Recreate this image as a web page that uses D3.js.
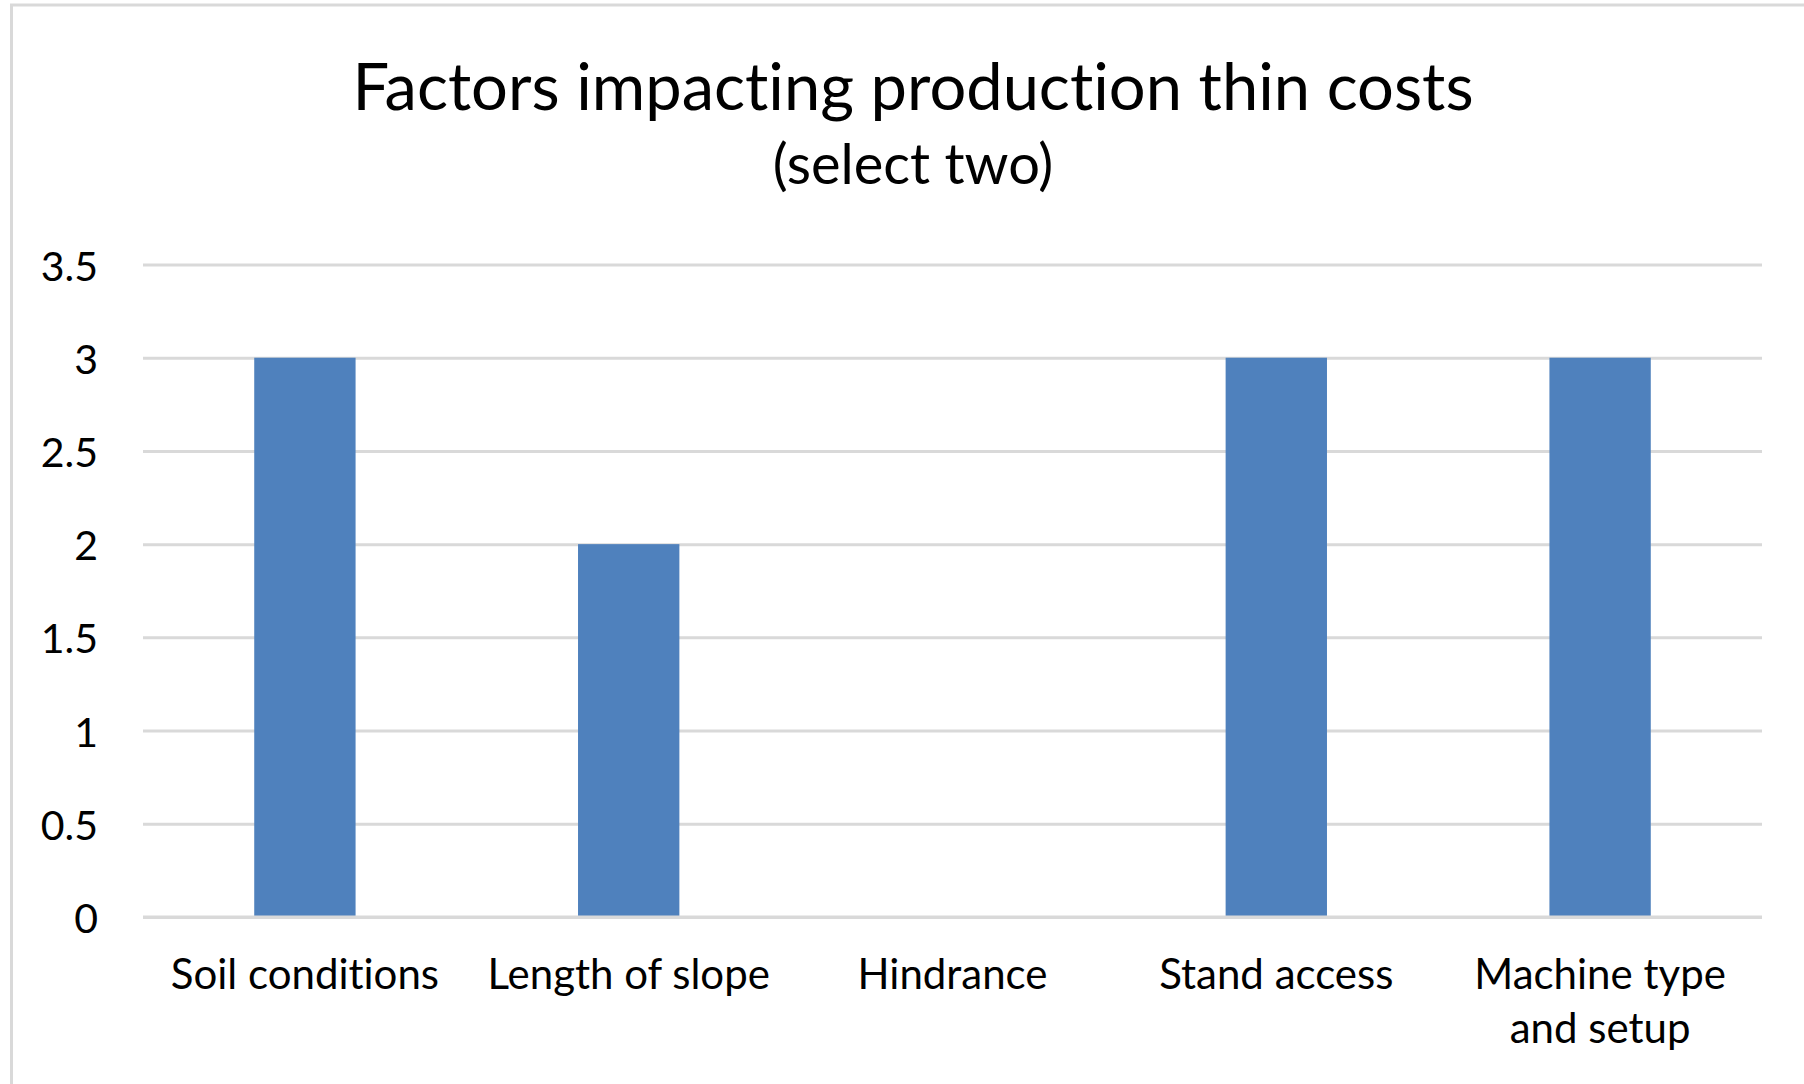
<!DOCTYPE html>
<html>
<head>
<meta charset="utf-8">
<script src="https://cdn.jsdelivr.net/npm/d3@7"></script>
<style>
  html, body { margin: 0; padding: 0; background: #ffffff; }
  svg { display: block; }
  text { font-family: Lato, "Open Sans", sans-serif; fill: #000000; font-variant-ligatures: none; font-feature-settings: "liga" 0, "clig" 0; }
</style>
</head>
<body>
<svg id="chart" width="1804" height="1084"></svg>
<script>
// Survey responses: factors impacting production thin costs
const categories = ["Soil conditions", "Length of slope", "Hindrance", "Stand access", "Machine type and setup"];
const responses = [3, 2, 0, 3, 3];
const yTicks = [0, 0.5, 1, 1.5, 2, 2.5, 3, 3.5];
const titleText = "Factors impacting production thin costs";
const subtitleText = "(select two)";

const W = 1804, H = 1084;
const plot = { left: 143, right: 1762, top: 264.5, bottom: 917 };
const barColor = "#4f81bd";
const gridColor = "#d9d9d9";

const svg = d3.select("#chart");

// chart-area frame
svg.append("rect")
  .attr("x", 11.5).attr("y", 5)
  .attr("width", W + 40).attr("height", H + 40)
  .attr("fill", "#ffffff")
  .attr("stroke", gridColor).attr("stroke-width", 3);

// scales
const gapRatio = 0.687;
const x = d3.scaleBand()
  .domain(categories)
  .range([plot.left, plot.right])
  .paddingInner(gapRatio)
  .paddingOuter(gapRatio / 2);

const y = d3.scaleLinear()
  .domain([0, 3.5])
  .range([plot.bottom, plot.top]);

// title
svg.append("text")
  .attr("x", 913).attr("y", 110)
  .attr("text-anchor", "middle")
  .style("font-size", "65px")
  .text(titleText);

svg.append("text")
  .attr("x", 913).attr("y", 184)
  .attr("text-anchor", "middle")
  .style("font-size", "56px")
  .text(subtitleText);

// horizontal gridlines (from the y axis ticks)
const grid = svg.append("g")
  .attr("transform", `translate(${plot.left},0)`)
  .call(d3.axisLeft(y).tickValues(yTicks).tickSize(-(plot.right - plot.left)).tickFormat(""));
grid.select(".domain").remove();
grid.selectAll(".tick line").attr("stroke", gridColor).attr("stroke-width", 3);

// y tick labels
const yAxis = svg.append("g")
  .attr("transform", `translate(98,0)`)
  .call(d3.axisLeft(y).tickValues(yTicks).tickSize(0).tickPadding(0).tickFormat(d3.format("~g")));
yAxis.select(".domain").remove();
yAxis.selectAll(".tick text")
  .attr("x", 0).attr("dy", null)
  .attr("dominant-baseline", "central")
  .attr("text-anchor", "end")
  .style("font-size", "41px")
  .style("font-family", "Lato, 'Open Sans', sans-serif")
  .attr("fill", "#000");

// bars
svg.append("g").selectAll("rect")
  .data(categories.map((c, i) => ({ c, v: responses[i] })))
  .join("rect")
  .attr("x", d => x(d.c))
  .attr("width", x.bandwidth())
  .attr("y", d => y(d.v))
  .attr("height", d => y(0) - y(d.v))
  .attr("fill", barColor);

// category axis line drawn over the bars
svg.append("line")
  .attr("x1", plot.left).attr("x2", plot.right)
  .attr("y1", y(0)).attr("y2", y(0))
  .attr("stroke", gridColor).attr("stroke-width", 3);

// category labels, wrapped to the band width
const step = x.step();
const labels = svg.append("g");
categories.forEach(c => {
  const cx = x(c) + x.bandwidth() / 2;
  const t = labels.append("text")
    .attr("x", cx).attr("y", 989)
    .attr("text-anchor", "middle")
    .style("font-size", "42px");
  const words = c.split(" ");
  let line = [];
  let tspan = t.append("tspan").attr("x", cx).attr("dy", 0);
  words.forEach(w => {
    line.push(w);
    tspan.text(line.join(" "));
    if (tspan.node().getComputedTextLength() > step - 20 && line.length > 1) {
      line.pop();
      tspan.text(line.join(" "));
      line = [w];
      tspan = t.append("tspan").attr("x", cx).attr("dy", 54).text(w);
    }
  });
});
</script>
</body>
</html>
